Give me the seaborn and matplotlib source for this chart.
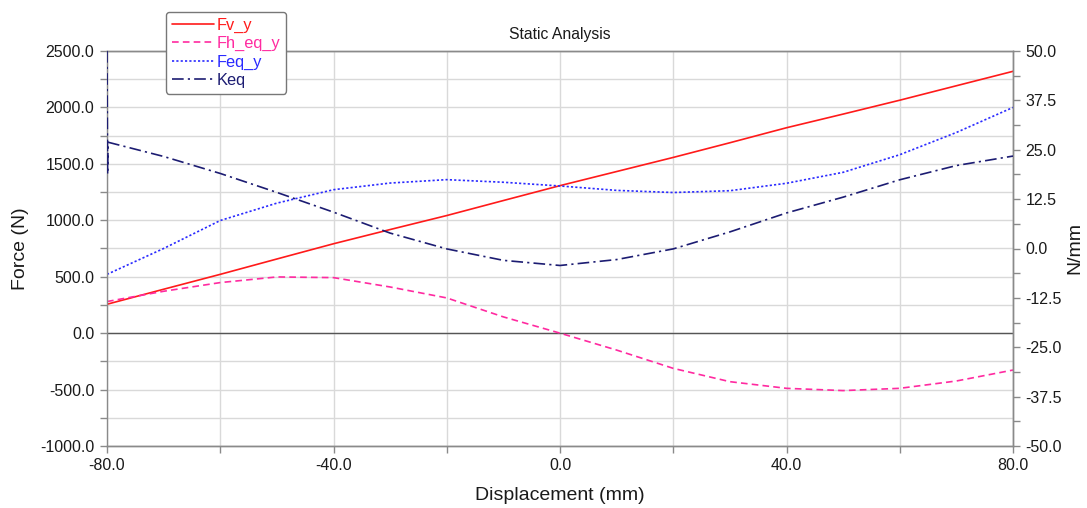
import matplotlib
matplotlib.use("Agg")
import matplotlib.pyplot as plt
from matplotlib.ticker import MultipleLocator, FormatStrFormatter
import seaborn as sns
import pandas as pd

# ---- data ----
disp = [-80, -70, -60, -50, -40, -30, -20, -10, 0, 10, 20, 30, 40, 50, 60, 70, 80]
fv_y = [256, 389, 521, 657, 792, 918, 1042, 1175, 1307, 1432, 1557, 1687, 1820, 1941, 2064, 2192, 2320]
fh_eq_y = [280, 371, 448, 498, 492, 409, 312, 144, 0, -150, -312, -430, -489, -509, -489, -424, -327]
feq_y = [521, 750, 998, 1152, 1271, 1330, 1360, 1337, 1304, 1265, 1246, 1262, 1328, 1425, 1581, 1778, 2000]
keq_disp = [-80.0, -79.9, -79.8, -70, -60, -50, -40, -30, -20, -10, 0, 10, 20, 30, 40, 50, 60, 70, 80]
keq = [50.0, 18.8, 26.9, 23.3, 19.0, 14.2, 9.2, 3.9, -0.1, -3.0, -4.3, -2.8, -0.1, 4.2, 9.0, 13.0, 17.4, 21.0, 23.4]

series_names = ["Fv_y", "Fh_eq_y", "Feq_y", "Keq"]
colors = {"Fv_y": "#ff1a1a", "Fh_eq_y": "#ff2aa0", "Feq_y": "#2a2aff", "Keq": "#1c1c72"}

sns.set_style("white")
plt.rcParams["font.family"] = ["Liberation Sans", "DejaVu Sans"]

fig = plt.figure(figsize=(10.87, 5.08), dpi=100)
ax = fig.add_axes([107 / 1087, 1 - 446 / 508, (1013 - 107) / 1087, (446 - 51) / 508])
ax2 = ax.twinx()

df_force = pd.DataFrame({"disp": disp, "Fv_y": fv_y, "Fh_eq_y": fh_eq_y, "Feq_y": feq_y})
df_k = pd.DataFrame({"disp": keq_disp, "Keq": keq})

lw = 1.2
sns.lineplot(data=df_force, x="disp", y="Fv_y", ax=ax, color=colors["Fv_y"], lw=lw,
             linestyle="-", estimator=None, label="Fv_y", legend=False)
sns.lineplot(data=df_force, x="disp", y="Fh_eq_y", ax=ax, color=colors["Fh_eq_y"], lw=lw,
             estimator=None, label="Fh_eq_y", legend=False)
sns.lineplot(data=df_force, x="disp", y="Feq_y", ax=ax, color=colors["Feq_y"], lw=lw,
             estimator=None, label="Feq_y", legend=False)
sns.lineplot(data=df_k, x="disp", y="Keq", ax=ax2, color=colors["Keq"], lw=lw,
             estimator=None, label="Keq", legend=False)

lines = ax.get_lines()
lines[1].set_dashes([4, 2.5])
lines[2].set_dashes([1.3, 1.3])
kline = ax2.get_lines()[0]
kline.set_dashes([7, 2.5, 1.3, 2.5])
kline.set_zorder(3)

# axes limits / ticks
ax.set_xlim(-80, 80)
ax.set_ylim(-1000, 2500)
ax2.set_ylim(-50, 50)

ax.xaxis.set_major_locator(MultipleLocator(40))
ax.xaxis.set_minor_locator(MultipleLocator(20))
ax.yaxis.set_major_locator(MultipleLocator(500))
ax.yaxis.set_minor_locator(MultipleLocator(250))
ax2.yaxis.set_major_locator(MultipleLocator(12.5))
ax2.yaxis.set_minor_locator(MultipleLocator(6.25))
ax.xaxis.set_major_formatter(FormatStrFormatter("%.1f"))
ax.yaxis.set_major_formatter(FormatStrFormatter("%.1f"))
ax2.yaxis.set_major_formatter(FormatStrFormatter("%.1f"))

grid_c = "#d9d9d9"
ax.grid(True, which="both", axis="both", color=grid_c, lw=1.0)
ax.set_axisbelow(True)
ax2.grid(False)
ax.axhline(0, color="#555555", lw=1.0, zorder=1.5)

spine_c = "#8a8a8a"
for a in (ax, ax2):
    for s in a.spines.values():
        s.set_color(spine_c)
        s.set_linewidth(1.0)
        s.set_visible(True)
ax2.spines["left"].set_visible(False)

tick_kw = dict(colors=spine_c, labelcolor="#1a1a1a", labelsize=11.5, direction="out")
ax.tick_params(axis="both", which="major", length=5, width=1, pad=4, **tick_kw)
ax.tick_params(axis="both", which="minor", length=5, width=1, **tick_kw)
ax.tick_params(axis="x", which="both", bottom=True)
ax.tick_params(axis="y", which="both", left=True)
ax2.tick_params(axis="y", which="major", length=5, width=1, pad=4, right=True, **tick_kw)
ax2.tick_params(axis="y", which="minor", length=5, width=1, right=True, **tick_kw)

ax.set_xlabel("Displacement (mm)", fontsize=14, labelpad=10, color="#1a1a1a")
ax.set_ylabel("Force (N)", fontsize=14, labelpad=8, color="#1a1a1a")
ax2.set_ylabel("N/mm", fontsize=14, labelpad=3, color="#1a1a1a")
ax.set_title("Static Analysis", fontsize=11.3, pad=9, color="#1a1a1a")

handles = ax.get_lines()[:3] + ax2.get_lines()[:1]
leg = fig.legend(handles, series_names, loc="upper left",
                 bbox_to_anchor=(166 / 1087, 1 - 12 / 508), bbox_transform=fig.transFigure,
                 fontsize=11.8, frameon=True, fancybox=True, framealpha=1,
                 edgecolor="#777777", labelcolor="linecolor", handlelength=2.6,
                 handletextpad=0.15, labelspacing=0.2, borderpad=0.35, borderaxespad=0)
leg.get_frame().set_linewidth(1.0)

fig.savefig("out.png", dpi=100)
